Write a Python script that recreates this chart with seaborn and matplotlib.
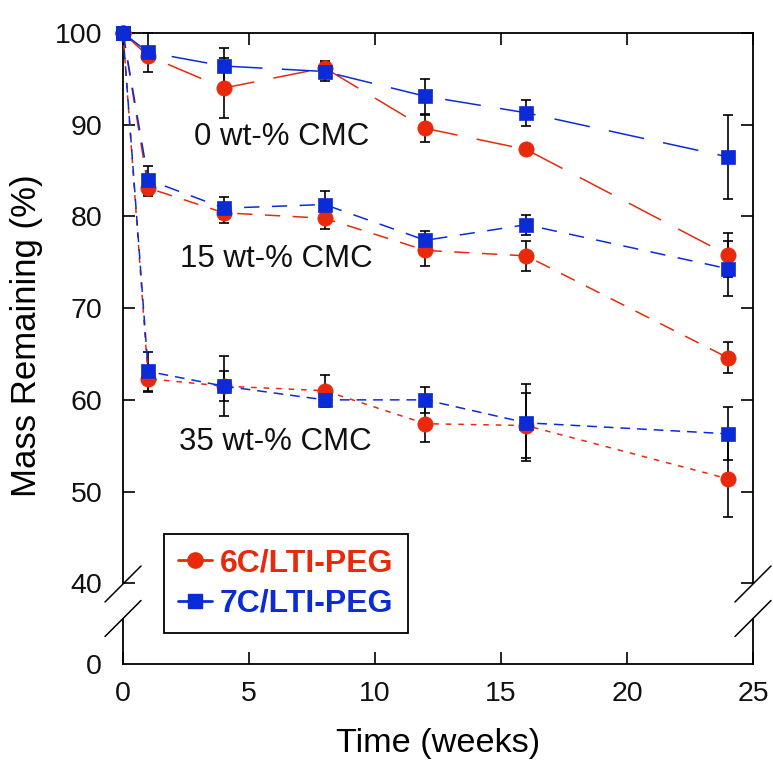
import matplotlib
matplotlib.use("Agg")
import matplotlib.pyplot as plt
from matplotlib.lines import Line2D
import seaborn as sns

# ---------------- data ----------------
weeks = [0, 1, 4, 8, 12, 16, 24]

red_0 = [100, 97.5, 94.0, 96.2, 89.6, 87.3, 75.8]
red_0_err = [0, 0.6, 3.3, 0.8, 1.5, 0.4, 2.4]
blue_0 = [100, 97.9, 96.4, 95.8, 93.1, 91.3, 86.5]
blue_0_err = [0, 2.1, 2.0, 1.0, 1.9, 1.4, 4.6]

red_15 = [100, 83.1, 80.4, 79.8, 76.3, 75.7, 64.6]
red_15_err = [0, 0.9, 1.1, 1.2, 1.7, 1.6, 1.7]
blue_15 = [100, 84.0, 80.9, 81.3, 77.4, 79.1, 74.3]
blue_15_err = [0, 1.5, 1.2, 1.5, 1.0, 1.1, 3.0]

red_35 = [100, 62.3, 61.5, 61.0, 57.4, 57.2, 51.4]
red_35_err = [0, 1.4, 1.6, 1.7, 2.0, 3.5, 4.2]
blue_35 = [100, 63.1, 61.5, 60.0, 60.0, 57.5, 56.3]
blue_35_err = [0, 2.1, 3.3, 0.8, 1.4, 4.2, 2.9]

series_names = ["6C/LTI-PEG", "7C/LTI-PEG"]
cmc_labels = ["0 wt-% CMC", "15 wt-% CMC", "35 wt-% CMC"]
y_ticks_top = [40, 50, 60, 70, 80, 90, 100]
x_ticks = [0, 5, 10, 15, 20, 25]

RED = "#E8290B"
BLUE = "#0B2BD6"

# ---------------- style ----------------
sns.set_theme(style="white")
plt.rcParams["font.family"] = ["Liberation Sans", "DejaVu Sans"]
plt.rcParams["lines.scale_dashes"] = False

W, H = 773, 762
fig = plt.figure(figsize=(W / 100, H / 100), dpi=100)

L, R = 123, 753
top_y0, top_y1 = 33, 583.3
bot_y0, bot_y1 = 618.5, 664


def fx(px):
    return px / W


def fy(py):
    return 1 - py / H


ax = fig.add_axes([fx(L), fy(top_y1), fx(R) - fx(L), fy(top_y0) - fy(top_y1)])
axb = fig.add_axes([fx(L), fy(bot_y1), fx(R) - fx(L), fy(bot_y0) - fy(bot_y1)])

groups = [
    (red_0, red_0_err, RED, "o", (0, (26, 14))),
    (red_15, red_15_err, RED, "o", (0, (11, 9))),
    (red_35, red_35_err, RED, "o", (0, (4, 5))),
    (blue_0, blue_0_err, BLUE, "s", (0, (26, 14))),
    (blue_15, blue_15_err, BLUE, "s", (0, (11, 9))),
    (blue_35, blue_35_err, BLUE, "s", (0, (7, 5))),
]

for vals, errs, col, mk, ls in groups:
    ax.errorbar(weeks, vals, yerr=errs, fmt="none", ecolor="black",
                elinewidth=1.2, capsize=3.5, capthick=1.2, zorder=1.5,
                clip_on=False)
for vals, errs, col, mk, ls in groups:
    sns.lineplot(x=weeks, y=vals, ax=ax, color=col, marker=mk,
                 markersize=11 if mk == "o" else 10.5,
                 markeredgecolor=col, markeredgewidth=0.5,
                 linewidth=1.1, linestyle=ls, clip_on=False, zorder=3)

# ---------------- axes config ----------------
for a in (ax, axb):
    a.set_xlim(0, 25)
    a.set_facecolor("white")
    for s in a.spines.values():
        s.set_color("black")
        s.set_linewidth(1.3)

ax.set_ylim(40, 100)
axb.set_ylim(0, 5)

ax.spines["bottom"].set_visible(False)
axb.spines["top"].set_visible(False)

ax.set_xticks(x_ticks)
ax.set_yticks(y_ticks_top)
ax.tick_params(axis="x", which="both", bottom=False, top=True,
               labelbottom=False, direction="in", length=8.5, width=1.2,
               color="black")
ax.tick_params(axis="y", left=True, right=True, direction="in",
               length=8.5, width=1.2, color="black", labelsize=20.5,
               pad=15, labelcolor="#111111")

axb.set_xticks(x_ticks)
axb.set_yticks([0])
axb.tick_params(axis="x", bottom=True, top=False, direction="in",
                length=8.5, width=1.2, color="black", labelsize=20.5,
                pad=12, labelcolor="#111111")
axb.tick_params(axis="y", left=True, right=False, direction="in",
                length=0, labelsize=20.5, pad=15, labelcolor="#111111")

ax.set_xlabel("")
ax.set_ylabel("Mass Remaining (%)", fontsize=25, color="black")
ax.yaxis.set_label_coords((43 - L) / (R - L), (top_y1 - 336) / (top_y1 - top_y0))
axb.set_xlabel("Time (weeks)", fontsize=24.7, color="black")
axb.xaxis.set_label_coords(0.5, -(728 - bot_y1) / (bot_y1 - bot_y0))
axb.set_ylabel("")

# group annotations
ax.text(6.3, 87.8, cmc_labels[0], fontsize=22.5, ha="center", va="baseline", color="#111111")
ax.text(6.1, 74.5, cmc_labels[1], fontsize=22.5, ha="center", va="baseline", color="#111111")
ax.text(6.05, 54.5, cmc_labels[2], fontsize=22.5, ha="center", va="baseline", color="#111111")

# break marks
d = 18
for cx in (L, R):
    for cy in (top_y1 + 0.7, bot_y0):
        fig.add_artist(Line2D([fx(cx - d), fx(cx + d)], [fy(cy + d), fy(cy - d)],
                              color="black", lw=1.1, transform=fig.transFigure))

# legend
handles = [
    Line2D([0], [0], color=RED, marker="o", markersize=11, lw=2, markeredgecolor=RED),
    Line2D([0], [0], color=BLUE, marker="s", markersize=10, lw=2, markeredgecolor=BLUE),
]
leg = fig.legend(handles, series_names, loc="upper left",
                 bbox_to_anchor=(fx(164), fy(534)), borderaxespad=0,
                 prop={"weight": "bold", "size": 23}, frameon=True,
                 fancybox=False, edgecolor="black", framealpha=1,
                 handlelength=1.05, handletextpad=0.25, labelspacing=0.33,
                 borderpad=0.45)
leg.get_frame().set_linewidth(1.3)
for t, c in zip(leg.get_texts(), (RED, BLUE)):
    t.set_color(c)

fig.savefig("out.png", dpi=100)
